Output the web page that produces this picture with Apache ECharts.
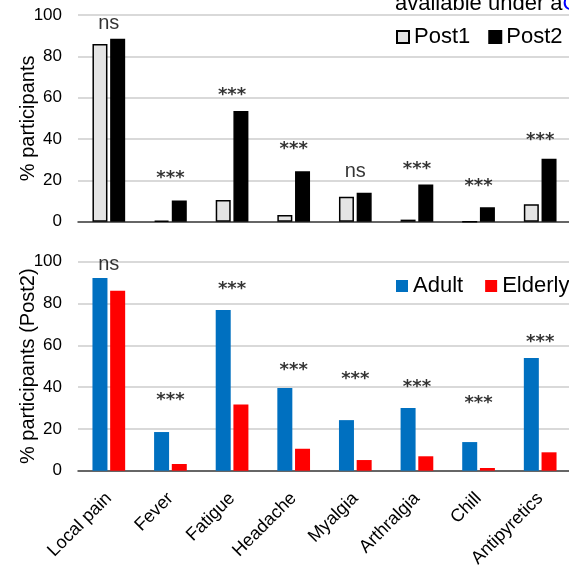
<!DOCTYPE html>
<html><head><meta charset="utf-8">
<script src="https://cdn.jsdelivr.net/npm/echarts@6/dist/echarts.min.js"></script>
<style>html,body{margin:0;padding:0;background:#fff}#c{width:569px;height:566px}</style>
</head><body><div id="c"></div>
<script>
const categories = ['Local pain','Fever','Fatigue','Headache','Myalgia','Arthralgia','Chill','Antipyretics'];
const post1 = [86, 0.5, 10.5, 3.2, 12.1, 1, 0, 8.4];
const post2 = [88.5, 10.2, 53.5, 24.4, 14, 18, 7, 30.4];
const adult = [92.2, 18.5, 76.9, 39.6, 24.2, 30, 13.7, 53.9];
const elderly = [86.1, 3.2, 31.7, 10.5, 5.1, 6.9, 1.3, 8.8];
const topSig = ['ns','***','***','***','ns','***','***','***'];
const topSigY = [95.8, 20.8, 60.9, 34.8, 24.2, 25.2, 16.9, 39.2];
const botSig = ['ns','***','***','***','***','***','***','***'];
const botSigY = [98.7, 33.6, 86.7, 48, 43.5, 39.7, 32.4, 61.2];
const yTicks = [0, 20, 40, 60, 80, 100];

const FONT = 'Liberation Sans, Arial, sans-serif';
const chart = echarts.init(document.getElementById('c'), null, {renderer: 'canvas'});

function yAxis(gi, name) {
  return {
    gridIndex: gi, type: 'value', min: yTicks[0], max: yTicks[yTicks.length-1], interval: 20,
    name: name, nameLocation: 'middle', nameGap: 40, nameMoveOverlap: false,
    nameTextStyle: {fontFamily: FONT, fontSize: 20, color: '#000'},
    axisLabel: {fontFamily: FONT, fontSize: 17, color: '#000', margin: 16},
    axisLine: {show: false}, axisTick: {show: false},
    splitLine: {lineStyle: {color: '#d9d9d9', width: 2}}
  };
}
function xAxis(gi, showLabels) {
  return {
    gridIndex: gi, type: 'category', data: categories,
    axisLine: {lineStyle: {color: '#404040', width: 1.5}},
    axisTick: {show: false},
    axisLabel: showLabels ? {fontFamily: FONT, fontSize: 18, color: '#000', rotate: 45, margin: 25, interval: 0} : {show: false}
  };
}
function sigSeries(xi, text, ys) {
  return {
    type: 'scatter', name: 'sig' + xi, xAxisIndex: xi, yAxisIndex: xi,
    symbolSize: 0, silent: true, z: 5,
    data: ys.map((v, i) => ({value: [categories[i], v], name: text[i]})),
    label: {show: true, position: 'inside',
      formatter: p => p.name === 'ns' ? '{n|ns}' : '{a|***}',
      rich: {
        n: {fontFamily: FONT, fontSize: 20, color: '#000'},
        a: {fontFamily: 'DejaVu Sans', fontWeight: 'bold', fontSize: 18, color: '#000'}
      }}
  };
}

chart.setOption({
  animation: false,
  backgroundColor: '#fff',
  grid: [
    {left: 78, top: 15, width: 493, height: 206.7, outerBoundsMode: 'none', containLabel: false},
    {left: 78, top: 261.7, width: 493, height: 209, outerBoundsMode: 'none', containLabel: false}
  ],
  xAxis: [xAxis(0, false), xAxis(1, true)],
  yAxis: [yAxis(0, '% participants'), yAxis(1, '% participants (Post2)')],
  legend: [
    {data: ['Post1','Post2'], orient: 'horizontal', left: 396, top: 26, width: 200, padding: 0,
     itemWidth: 12, itemHeight: 12, itemGap: 18, icon: 'rect',
     textStyle: {fontFamily: FONT, fontSize: 22, color: '#000'}},
    {data: ['Adult','Elderly'], orient: 'horizontal', left: 396, top: 275, width: 200, padding: 0,
     itemWidth: 12, itemHeight: 12, itemGap: 22, icon: 'rect',
     textStyle: {fontFamily: FONT, fontSize: 22, color: '#000'}}
  ],
  graphic: [{
    type: 'text', left: 395, top: -7,
    style: {
      text: '{b|available under a}{c|CC-BY 4.0 International license}',
      rich: {b: {fontFamily: FONT, fontSize: 22, fill: '#000'}, c: {fontFamily: FONT, fontSize: 22, fill: '#0000ff'}}
    }
  }],
  series: [
    {type: 'bar', name: 'Post1', xAxisIndex: 0, yAxisIndex: 0, data: post1, barWidth: 15, barGap: '18%',
     itemStyle: {color: '#e4e4e4', borderColor: '#000', borderWidth: 1.5}},
    {type: 'bar', name: 'Post2', xAxisIndex: 0, yAxisIndex: 0, data: post2, barWidth: 15, barGap: '18%',
     itemStyle: {color: '#000', borderColor: '#000', borderWidth: 1.5}},
    {type: 'bar', name: 'Adult', xAxisIndex: 1, yAxisIndex: 1, data: adult, barWidth: 15, barGap: '18%',
     itemStyle: {color: '#0070c0'}},
    {type: 'bar', name: 'Elderly', xAxisIndex: 1, yAxisIndex: 1, data: elderly, barWidth: 15, barGap: '18%',
     itemStyle: {color: '#ff0000'}},
    sigSeries(0, topSig, topSigY),
    sigSeries(1, botSig, botSigY)
  ]
});
</script></body></html>
